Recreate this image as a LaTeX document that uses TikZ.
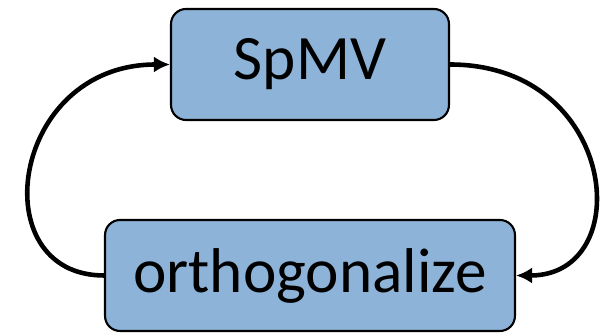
\documentclass[tikz,border=0pt]{standalone}
\usepackage{fontspec}
\setmainfont{Carlito}
\usetikzlibrary{arrows.meta}
\definecolor{boxblue}{RGB}{141,180,216}
\begin{document}
\begin{tikzpicture}[x=0.02cm,y=-0.02cm,
  stepbox/.style={draw=black,line width=1.2pt,fill=boxblue,rounded corners=0.3cm,
    inner sep=0pt,minimum height=2.22cm,font=\fontsize{36}{42}\selectfont},
  loop/.style={line width=2.6pt,-{Latex[length=0.32cm,width=0.32cm]}}]
\useasboundingbox (0,0) rectangle (602,333);
%\draw[step=50,very thin,color=gray] (0,0) grid (602,333);
\node[stepbox,minimum width=5.56cm] (spmv) at (310,64.5) {SpMV};
\node[stepbox,minimum width=8.2cm] (orth) at (310,275.5) {orthogonalize};
\draw[loop] (spmv.east) .. controls +(168,0) and +(122,0) .. (orth.east);
\draw[loop] (orth.west) .. controls +(-122,0) and +(-160,0) .. (spmv.west);
\end{tikzpicture}
\end{document}
